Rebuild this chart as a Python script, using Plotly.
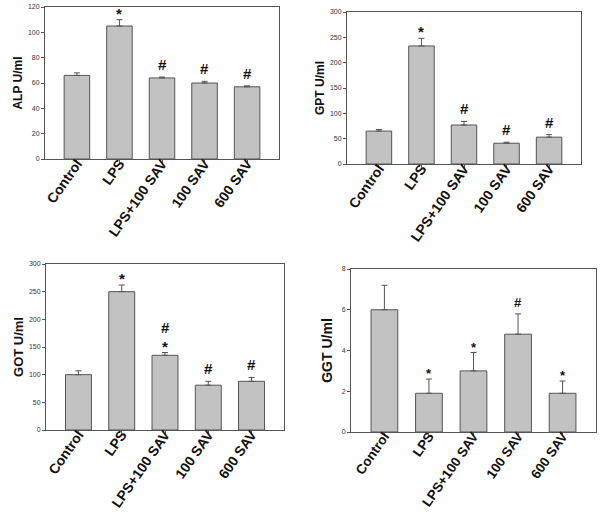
import plotly.graph_objects as go

categories = ["Control", "LPS", "LPS+100 SAV", "100 SAV", "600 SAV"]

alp_vals = [66, 105, 64, 60, 57]
alp_err = [2, 5, 0.7, 1.3, 0.8]
alp_marks = ["", "*", "#", "#", "#"]

gpt_vals = [65, 233, 77, 41, 53]
gpt_err = [3, 15, 7, 2, 5]
gpt_marks = ["", "*", "#", "#", "#"]

got_vals = [100, 250, 135, 81, 88]
got_err = [7, 12, 5, 7, 7]
got_marks = ["", "*", "*#", "#", "#"]

ggt_vals = [6.0, 1.9, 3.0, 4.8, 1.9]
ggt_err = [1.2, 0.7, 0.9, 1.0, 0.6]
ggt_marks = ["", "*", "*", "#", "*"]

# page body margin is removed by post_script, so paper pixels == window pixels
W, H, OFF = 600, 524, 0
def xdom(a, b):
    return [max(0, (a - OFF) / W), min(1, (b - OFF) / W)]
def ydom(top, bottom):
    return [max(0, 1 - (bottom - OFF) / H), min(1, 1 - (top - OFF) / H)]

panels = [
    dict(vals=alp_vals, err=alp_err, marks=alp_marks, title="ALP U/ml", ymax=120, dtick=20,
         xd=xdom(45, 279), yd=ydom(7, 159), tsize=12, xsize=14, standoff=2),
    dict(vals=gpt_vals, err=gpt_err, marks=gpt_marks, title="GPT U/ml", ymax=300, dtick=50,
         xd=xdom(347, 581), yd=ydom(12, 164), tsize=12, xsize=14, standoff=2),
    dict(vals=got_vals, err=got_err, marks=got_marks, title="GOT U/ml", ymax=300, dtick=50,
         xd=xdom(46, 284), yd=ydom(264, 430), tsize=13, xsize=14, standoff=2),
    dict(vals=ggt_vals, err=ggt_err, marks=ggt_marks, title="GGT U/ml", ymax=8, dtick=2,
         xd=xdom(351, 596), yd=ydom(269, 432), tsize=14, xsize=13.5, standoff=5),
]

FONT = "Arial, Liberation Sans, sans-serif"
fig = go.Figure()
annotations = []
layout = {}
for i, p in enumerate(panels, start=1):
    xa = "x" if i == 1 else f"x{i}"
    ya = "y" if i == 1 else f"y{i}"
    fig.add_trace(go.Bar(
        x=categories, y=p["vals"], xaxis=xa, yaxis=ya,
        marker=dict(color="#c2c2c2", line=dict(color="#555555", width=1)),
        error_y=dict(type="data", symmetric=False, array=p["err"], arrayminus=[0]*5,
                     color="#555555", thickness=1, width=3),
        showlegend=False,
    ))
    xkey = "xaxis" if i == 1 else f"xaxis{i}"
    ykey = "yaxis" if i == 1 else f"yaxis{i}"
    layout[xkey] = dict(domain=p["xd"], anchor=ya, range=[-0.75, 4.75], automargin=False,
                        showline=True, linecolor="#555555", linewidth=1, mirror=True,
                        ticks="outside", ticklen=3, tickcolor="#555555",
                        tickangle=-55, showgrid=False, ticklabelstandoff=-13,
                        tickfont=dict(family=FONT, size=p["xsize"], color="#111111", weight="bold"))
    layout[ykey] = dict(domain=p["yd"], anchor=xa, range=[0, p["ymax"]], dtick=p["dtick"],
                        automargin=False,
                        showline=True, linecolor="#555555", linewidth=1, mirror=True,
                        ticks="outside", ticklen=3, tickcolor="#555555", showgrid=False,
                        zeroline=False,
                        tickfont=dict(family=FONT, size=7, color="#333333"),
                        title=dict(text=p["title"], standoff=p["standoff"],
                                   font=dict(family=FONT, size=p["tsize"], color="#111111", weight="bold")))
    small = (i == 4)
    for c, v, e, m in zip(categories, p["vals"], p["err"], p["marks"]):
        extra = 0
        for ch in m:
            shift = (-4 if ch == "*" else 2) + extra
            annotations.append(dict(x=c, y=v + e, xref=xa, yref=ya, text=ch, showarrow=False,
                                    yanchor="bottom", yshift=shift,
                                    font=dict(family=FONT, size=13 if small else 15,
                                              color="#111111", weight="bold")))
            extra += 13

fig.update_layout(**layout)
fig.update_layout(width=W, height=H, margin=dict(l=0, r=0, t=0, b=0, autoexpand=False),
                  paper_bgcolor="white", plot_bgcolor="white", bargap=0.4,
                  annotations=annotations, font=dict(family=FONT))
fig.write_html("out.html", config={"displayModeBar": False},
               post_script="document.body.style.margin='0';document.body.style.overflow='hidden';")
